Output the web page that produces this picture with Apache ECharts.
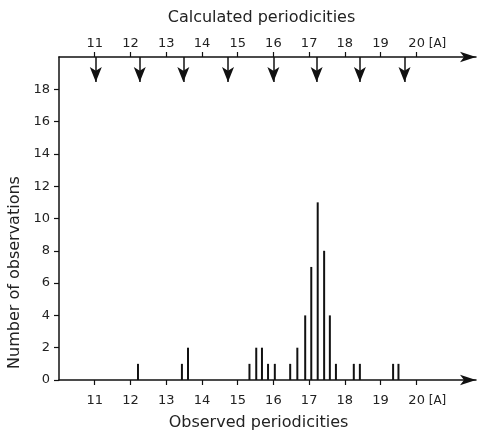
<!DOCTYPE html>
<html>
<head>
<meta charset="utf-8">
<script src="https://cdn.jsdelivr.net/npm/echarts@6/dist/echarts.min.js"></script>
<style>
  html, body { margin: 0; padding: 0; background: #fff; }
  #chart { width: 483px; height: 432px; }
</style>
</head>
<body>
<div id="chart"></div>
<script>
// observed periodicities (A) and how often each was seen
const observedX = [12.21, 13.44, 13.61, 15.33, 15.52, 15.68, 15.85, 16.04, 16.47, 16.67,
  16.89, 17.06, 17.24, 17.42, 17.58, 17.75, 18.25, 18.42, 19.35, 19.5];
const observedCount = [1, 1, 2, 1, 2, 2, 1, 1, 1, 2,
  4, 7, 11, 8, 4, 1, 1, 1, 1, 1];

// calculated periodicities, drawn as arrows hanging from the top axis
const calculatedX = [11.03, 12.26, 13.48, 14.73, 16.0, 17.21, 18.42, 19.67];
const arrowTop = 20;
const arrowBottom = 18.45;

const xTicks = [11, 12, 13, 14, 15, 16, 17, 18, 19, 20];
const yTicks = [0, 2, 4, 6, 8, 10, 12, 14, 16, 18];

const ink = '#111';
const font = 'DejaVu Sans';

const chart = echarts.init(document.getElementById('chart'));

function xLabel(v) {
  if (v === 20) return '{l|20}{u| [A]}';
  return '{n|' + v + '}';
}
const richLabel = {
  n: { fontFamily: font, fontSize: 13, color: '#222' },
  l: { fontFamily: font, fontSize: 13, color: '#222', padding: [0, 0, 0, 22] },
  u: { fontFamily: font, fontSize: 12, color: '#222' }
};

const observedData = observedX.map((x, i) => [x, observedCount[i]]);
const arrowLines = calculatedX.map((x) => [
  { coord: [x, arrowTop] },
  { coord: [x, arrowBottom] }
]);

const xAxisBase = {
  type: 'value',
  min: 10,
  max: 21.67,
  splitLine: { show: false },
  axisLine: {
    show: true,
    onZero: false,
    symbol: ['none', 'arrow'],
    symbolSize: [8, 16],
    lineStyle: { color: ink, width: 1.5 }
  },
  axisTick: {
    show: true,
    customValues: xTicks,
    length: 5,
    lineStyle: { color: ink, width: 1.2 }
  }
};

const options = {
  animation: false,
  backgroundColor: '#fff',
  grid: { left: 59, right: 7, top: 57, bottom: 52, containLabel: false, outerBoundsMode: 'none' },
  xAxis: [
    Object.assign({}, xAxisBase, {
      position: 'bottom',
      name: 'Observed periodicities',
      nameLocation: 'middle',
      nameGap: 35,
      nameTextStyle: { fontFamily: font, fontSize: 16, color: '#222', padding: [0, 18, 0, 0] },
      axisLabel: {
        customValues: xTicks,
        margin: 14,
        formatter: xLabel,
        rich: Object.assign({}, richLabel)
      }
    }),
    Object.assign({}, xAxisBase, {
      position: 'top',
      name: 'Calculated periodicities',
      nameLocation: 'middle',
      nameGap: 31,
      nameTextStyle: { fontFamily: font, fontSize: 16, color: '#222', padding: [0, 12, 0, 0] },
      axisLabel: {
        customValues: xTicks,
        margin: 7,
        formatter: xLabel,
        rich: Object.assign({}, richLabel)
      }
    })
  ],
  yAxis: {
    type: 'value',
    min: 0,
    max: 20,
    splitLine: { show: false },
    name: 'Number of observations',
    nameLocation: 'middle',
    nameGap: 34,
    nameTextStyle: { fontFamily: font, fontSize: 16, color: '#222', padding: [0, 108, 0, 0] },
    axisLine: { show: true, lineStyle: { color: ink, width: 1.5 } },
    axisTick: {
      show: true,
      customValues: yTicks,
      length: 5,
      lineStyle: { color: ink, width: 1.2 }
    },
    axisLabel: {
      customValues: yTicks,
      margin: 9,
      fontFamily: font,
      fontSize: 13,
      color: '#222'
    }
  },
  series: [
    {
      type: 'bar',
      xAxisIndex: 0,
      barWidth: 2,
      itemStyle: { color: ink },
      data: observedData
    },
    {
      type: 'scatter',
      xAxisIndex: 1,
      data: [],
      silent: true,
      markLine: {
        silent: true,
        symbol: ['none', 'arrow'],
        symbolSize: [9, 15],
        label: { show: false },
        lineStyle: { color: ink, width: 1.5, type: 'solid' },
        data: arrowLines
      }
    }
  ]
};

chart.setOption(options);
</script>
</body>
</html>
